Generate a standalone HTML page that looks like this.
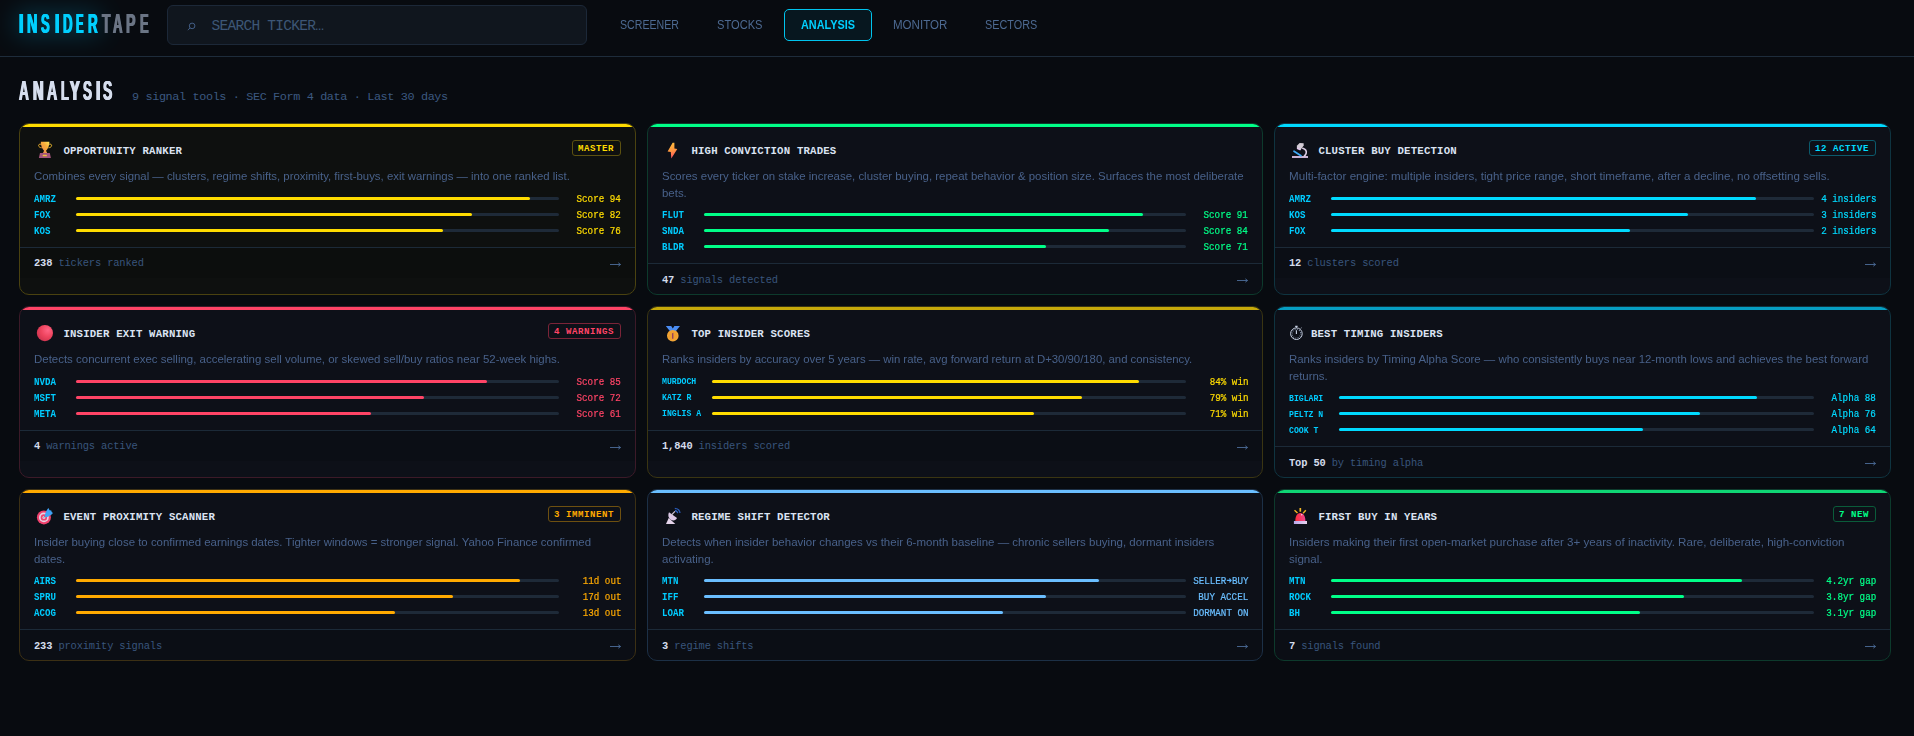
<!DOCTYPE html>
<html lang="en">
<head>
<meta charset="utf-8">
<title>InsiderTape — Analysis</title>
<style>
*{box-sizing:border-box;margin:0;padding:0}
html,body{width:1914px;height:736px;overflow:hidden;background:#080b10}
body{font-family:"Liberation Sans",sans-serif;color:#c8d4e8;position:relative;-webkit-font-smoothing:antialiased}
.mono{font-family:"Liberation Mono",monospace}

/* ---------- header ---------- */
.hdr{position:absolute;left:0;top:0;width:1914px;height:57px;border-bottom:1px solid #1e2c3b;background:#080b10}
.big{position:absolute;left:0;height:32px;line-height:32px;font-weight:bold;font-size:27.8px;white-space:nowrap}
.big i{position:absolute;top:0;font-style:normal;transform-origin:0 50%;text-shadow:1.2px 0 0 currentColor,-1.2px 0 0 currentColor}
.logo{top:8.4px}
.logo .a{color:#00d0ff}
.logo .b{color:#6b7585}
.logo .g{color:#00c8ff;filter:blur(13px);opacity:.38}
.logo .g i{text-shadow:3px 0 0 currentColor,-3px 0 0 currentColor}
.search{position:absolute;left:167px;top:5px;width:420px;height:40px;border:1px solid #1c2838;border-radius:6px;background:#10161e}
.search svg{position:absolute;left:18px;top:15px}
.search .ph{position:absolute;left:43.500px;top:1px;line-height:38px;font-family:"Liberation Mono",monospace;font-size:14.5px;color:#3d5676;white-space:nowrap;letter-spacing:-.72px}
.nav a{position:absolute;top:9px;height:32px;line-height:32px;font-size:12px;color:#4d6a92;white-space:nowrap;transform-origin:0 50%}
.nav .box{position:absolute;left:784px;top:9px;width:88px;height:32px;border:1px solid #00c4ee;border-radius:5px;background:#07171f}
.nav a.on{color:#00d0ff;font-weight:bold}

/* ---------- page title ---------- */
.h1{top:75.3px;color:#d6deee}
.sub{position:absolute;left:132px;top:89.8px;line-height:14px;font-family:"Liberation Mono",monospace;font-size:11.8px;color:#3c5980;white-space:nowrap;letter-spacing:-.36px}

/* ---------- grid ---------- */
.grid{position:absolute;left:19px;top:123px;display:grid;grid-template-columns:617px 616px 617px;grid-auto-rows:172px;gap:11px}
.card{position:relative;border:1px solid var(--bd);border-radius:10px;background:#0d1018;overflow:hidden;--c:#00d4ff;--bd:#15303a}
.card::before{content:"";position:absolute;left:0;top:0;right:0;height:3px;background:var(--c)}
.ico{position:absolute;left:14px;top:14px;width:24px;height:24px}
.tt{position:absolute;left:43.4px;top:20.300px;line-height:14px;font-family:"Liberation Mono",monospace;font-weight:bold;font-size:10.7px;color:#dbe3f2;white-space:nowrap;letter-spacing:.18px}
.bdg{position:absolute;right:14px;top:16px;height:16px;line-height:16px;padding:0 6px 0 5px;border:1px solid var(--bb);border-radius:3px;font-family:"Liberation Mono",monospace;font-weight:bold;font-size:9.1px;letter-spacing:.54px;color:var(--c);white-space:nowrap}
.ds{position:absolute;left:14px;top:44px;font-size:11.35px;line-height:16.5px;color:#48618a;white-space:nowrap;transform-origin:0 0}
.rows{position:absolute;left:14px;right:14px;top:68px}
.two .rows{top:84px}
.r{display:flex;align-items:center;height:13px;margin-bottom:3px}
.r .t{width:42px;flex:none;font-family:"Liberation Mono",monospace;font-weight:bold;font-size:10.6px;color:#00ccff;white-space:nowrap;line-height:13px}
.r .t b,.r .v b{display:inline-block;font-weight:inherit;transform:scaleX(.885);position:relative;top:1px}
.r .t b{transform:scaleX(.86)}
.r .v b{transform:scaleX(.872);left:.3px}
.wide .r .t b{top:0}
.c6 .r .t b{top:1px}
.c6 .tt{left:35.9px}
.r .t b{transform-origin:0 50%}
.r .v b{transform-origin:100% 50%}
.wide .r .t{width:50px;font-size:9.1px}
.wide .r .t b{transform:scaleX(.897)}
.r .k{flex:1;height:3px;border-radius:1.5px;background:#1e2a38;position:relative}
.r .k i{position:absolute;left:0;top:0;height:3px;border-radius:1.5px;background:var(--c)}
.r .v{width:76px;margin-left:-14px;flex:none;text-align:right;-webkit-text-stroke:.22px var(--c);font-family:"Liberation Mono",monospace;font-size:10.6px;color:var(--c);white-space:nowrap;line-height:13px}
.ft{position:absolute;left:0;right:0;top:123px;border-top:1px solid #1c2a38;height:31px;background:rgba(0,0,0,.1);padding:8.500px 14px 0 14px;font-family:"Liberation Mono",monospace;font-size:10.4px;line-height:12px;color:#39557c;white-space:nowrap;letter-spacing:-.14px}
.two .ft{top:139px;padding-top:9.500px}
.two .ft svg{top:13px}
.ft b{color:#d4dcec}
.ft svg{position:absolute;right:14.4px;top:13px}

/* ---------- per-card colours ---------- */
.c1{--c:#ffdc00;--bd:#4a4210;--bb:#5c5110;background:#0e100f}
.c2{--c:#00ff88;--bd:#0d3a2c;--bb:#0d3a2c}
.c3{--c:#00daff;--bd:#0f3440;--bb:#0b5a6c}
.c4{--c:#ff4466;--bd:#3c1a28;--bb:#7a2438}
.c5{--c:#ffdc00;--bd:#3a3512;--bb:#3a3512}
.c5::before{background:#c6a90a}
.c6{--c:#00daff;--bd:#0f3440;--bb:#0f3440}
.c6::before{background:#069ec2}
.c7{--c:#ffaa00;--bd:#3c3014;--bb:#6e5010}
.c8{--c:#6abeff;--bd:#1c3046;--bb:#1c3046}
.c9{--c:#00ff88;--bd:#0d3a2c;--bb:#0a5c3a}
.c9::before{background:#0fd674}
.v svg{display:inline-block;width:6.36px;height:7px;vertical-align:0}
</style>
</head>
<body>

<div class="hdr">
  <div class="big logo"><span class="g"><i style="left:18.96px;transform:scaleX(0.5716)">I</i><i style="left:26.84px;transform:scaleX(0.5170)">N</i><i style="left:41.48px;transform:scaleX(0.4671)">S</i><i style="left:54.63px;transform:scaleX(0.5591)">I</i><i style="left:62.52px;transform:scaleX(0.4776)">D</i><i style="left:76.28px;transform:scaleX(0.4079)">E</i><i style="left:87.99px;transform:scaleX(0.4834)">R</i></span><span class="a"><i style="left:18.96px;transform:scaleX(0.5716)">I</i><i style="left:26.84px;transform:scaleX(0.5170)">N</i><i style="left:41.48px;transform:scaleX(0.4671)">S</i><i style="left:54.63px;transform:scaleX(0.5591)">I</i><i style="left:62.52px;transform:scaleX(0.4776)">D</i><i style="left:76.28px;transform:scaleX(0.4079)">E</i><i style="left:87.99px;transform:scaleX(0.4834)">R</i></span><span class="b"><i style="left:101.68px;transform:scaleX(0.4954)">T</i><i style="left:113.08px;transform:scaleX(0.4750)">A</i><i style="left:126.37px;transform:scaleX(0.5129)">P</i><i style="left:139.72px;transform:scaleX(0.4646)">E</i></span></div>
  <div class="search">
    <svg width="10" height="10" viewBox="0 0 10 10" fill="none" stroke="#46628c" stroke-width=".95"><circle cx="6.1" cy="4.9" r="2.800"/><path d="M4.050 6.950 L1.800 9.100"/></svg>
    <div class="ph">SEARCH TICKER…</div>
  </div>
  <div class="nav">
    <div class="box"></div>
    <a style="left:620px;transform:scaleX(.885)">SCREENER</a>
    <a style="left:717.1px;transform:scaleX(.927)">STOCKS</a>
    <a class="on" style="left:801px;transform:scaleX(.905)">ANALYSIS</a>
    <a style="left:892.7px;transform:scaleX(.962)">MONITOR</a>
    <a style="left:984.5px;transform:scaleX(.903)">SECTORS</a>
  </div>
</div>

<div class="big h1"><i style="left:19.39px;transform:scaleX(0.4883)">A</i><i style="left:32.71px;transform:scaleX(0.5250)">N</i><i style="left:46.61px;transform:scaleX(0.5064)">A</i><i style="left:60.66px;transform:scaleX(0.4590)">L</i><i style="left:69.80px;transform:scaleX(0.5230)">Y</i><i style="left:83.09px;transform:scaleX(0.4839)">S</i><i style="left:95.70px;transform:scaleX(0.5575)">I</i><i style="left:103.48px;transform:scaleX(0.5001)">S</i></div>
<div class="sub">9 signal tools · SEC Form 4 data · Last 30 days</div>

<div class="grid" id="grid">
<div class="card c1">
  <svg class="ico" viewBox="0 0 24 24"><defs><linearGradient id="gtr" x1="1" y1="0" x2="0" y2="1"><stop offset="0" stop-color="#ffe65c"/><stop offset=".4" stop-color="#f9ad3a"/><stop offset="1" stop-color="#ea8456"/></linearGradient></defs>
<path d="M7 6.200c-1.700-.3-2.600.5-2.400 1.500.2 1.200 1.500 2 3.100 2.100" fill="none" stroke="#e6ac2c" stroke-width="1"/>
<path d="M15.200 6.200c1.700-.3 2.600.5 2.400 1.500-.2 1.200-1.500 2-3.100 2.100" fill="none" stroke="#efbd30" stroke-width="1"/>
<path d="M6.800 3.700h8.600c0 4.300-1.600 7-3.400 9.100l1.200 2.200H9l1.100-2.200C8.400 10.700 6.800 8 6.800 3.700z" fill="url(#gtr)"/>
<path d="M6 14.900h9.800l1.100 5.200H4.900z" fill="#a4567c"/>
<rect x="8.700" y="16.800" width="4.200" height="1.500" rx=".5" fill="#f0c03a"/></svg>
  <div class="tt">OPPORTUNITY RANKER</div>
  <div class="bdg">MASTER</div>
  <div class="ds" style="transform:scaleX(1.0038)">Combines every signal — clusters, regime shifts, proximity, first-buys, exit warnings — into one ranked list.</div>
  <div class="rows">
    <div class="r"><span class="t"><b>AMRZ</b></span><span class="k"><i style="width:94%"></i></span><span class="v"><b>Score 94</b></span></div>
    <div class="r"><span class="t"><b>FOX</b></span><span class="k"><i style="width:82%"></i></span><span class="v"><b>Score 82</b></span></div>
    <div class="r"><span class="t"><b>KOS</b></span><span class="k"><i style="width:76%"></i></span><span class="v"><b>Score 76</b></span></div>
  </div>
  <div class="ft"><b>238</b> tickers ranked<svg width="11" height="7" viewBox="0 0 11 7" fill="none" stroke="#4c6c98" stroke-width=".9"><path d="M0 3.500h10.400M8.300 1.800l2.300 1.700-2.300 1.700"/></svg></div>
</div>
<div class="card c2 two">
  <svg class="ico" viewBox="0 0 24 24"><defs><linearGradient id="gbo" x1=".4" y1="0" x2=".6" y2="1"><stop offset="0" stop-color="#ffbe3c"/><stop offset=".5" stop-color="#ff9540"/><stop offset="1" stop-color="#ff4a66"/></linearGradient></defs>
<path d="M10.600 4.700h1.800v5.800l2.900.6-6 9.300-.5-6.300-3.200-.5z" fill="url(#gbo)"/></svg>
  <div class="tt">HIGH CONVICTION TRADES</div>
  <div class="ds" style="transform:scaleX(1.0081)">Scores every ticker on stake increase, cluster buying, repeat behavior &amp; position size. Surfaces the most deliberate<br>bets.</div>
  <div class="rows">
    <div class="r"><span class="t"><b>FLUT</b></span><span class="k"><i style="width:91%"></i></span><span class="v"><b>Score 91</b></span></div>
    <div class="r"><span class="t"><b>SNDA</b></span><span class="k"><i style="width:84%"></i></span><span class="v"><b>Score 84</b></span></div>
    <div class="r"><span class="t"><b>BLDR</b></span><span class="k"><i style="width:71%"></i></span><span class="v"><b>Score 71</b></span></div>
  </div>
  <div class="ft"><b>47</b> signals detected<svg width="11" height="7" viewBox="0 0 11 7" fill="none" stroke="#4c6c98" stroke-width=".9"><path d="M0 3.500h10.400M8.300 1.800l2.300 1.700-2.300 1.700"/></svg></div>
</div>
<div class="card c3">
  <svg class="ico" viewBox="0 0 24 24">
<path d="M3 18.100h16v2H3z" fill="#c9b2d3"/>
<path d="M5 13.200l7 4.600" stroke="#3fa9f5" stroke-width="1.700" stroke-linecap="round" fill="none"/>
<path d="M13.800 10.200c2.800.7 4.100 3 3.300 5.400-.3 1-.9 1.800-1.700 2.400" stroke="#dccde4" stroke-width="1.600" fill="none" stroke-linecap="round"/>
<path d="M10.600 4.900l4 .300.1 2.200-3.300 4.700-3.500-1.600 0-2.700z" fill="#d3ccd6"/>
<path d="M8.100 9.600l3.800 1.700-.7 1.100-3.300-1.500z" fill="#e3c6ee"/></svg>
  <div class="tt">CLUSTER BUY DETECTION</div>
  <div class="bdg">12 ACTIVE</div>
  <div class="ds" style="transform:scaleX(1.0237)">Multi-factor engine: multiple insiders, tight price range, short timeframe, after a decline, no offsetting sells.</div>
  <div class="rows">
    <div class="r"><span class="t"><b>AMRZ</b></span><span class="k"><i style="width:88%"></i></span><span class="v"><b>4 insiders</b></span></div>
    <div class="r"><span class="t"><b>KOS</b></span><span class="k"><i style="width:74%"></i></span><span class="v"><b>3 insiders</b></span></div>
    <div class="r"><span class="t"><b>FOX</b></span><span class="k"><i style="width:62%"></i></span><span class="v"><b>2 insiders</b></span></div>
  </div>
  <div class="ft"><b>12</b> clusters scored<svg width="11" height="7" viewBox="0 0 11 7" fill="none" stroke="#4c6c98" stroke-width=".9"><path d="M0 3.500h10.400M8.300 1.800l2.300 1.700-2.300 1.700"/></svg></div>
</div>
<div class="card c4">
  <svg class="ico" viewBox="0 0 24 24"><defs><radialGradient id="grd" cx=".68" cy=".32" r=".75"><stop offset="0" stop-color="#ff6484"/><stop offset=".55" stop-color="#ee445e"/><stop offset="1" stop-color="#cf3450"/></radialGradient></defs>
<circle cx="10.900" cy="12.100" r="8.100" fill="url(#grd)"/></svg>
  <div class="tt">INSIDER EXIT WARNING</div>
  <div class="bdg">4 WARNINGS</div>
  <div class="ds" style="transform:scaleX(1.01)">Detects concurrent exec selling, accelerating sell volume, or skewed sell/buy ratios near 52-week highs.</div>
  <div class="rows">
    <div class="r"><span class="t"><b>NVDA</b></span><span class="k"><i style="width:85%"></i></span><span class="v"><b>Score 85</b></span></div>
    <div class="r"><span class="t"><b>MSFT</b></span><span class="k"><i style="width:72%"></i></span><span class="v"><b>Score 72</b></span></div>
    <div class="r"><span class="t"><b>META</b></span><span class="k"><i style="width:61%"></i></span><span class="v"><b>Score 61</b></span></div>
  </div>
  <div class="ft"><b>4</b> warnings active<svg width="11" height="7" viewBox="0 0 11 7" fill="none" stroke="#4c6c98" stroke-width=".9"><path d="M0 3.500h10.400M8.300 1.800l2.300 1.700-2.300 1.700"/></svg></div>
</div>
<div class="card c5 wide">
  <svg class="ico" viewBox="0 0 24 24">
<path d="M3.800 5h5.400l1.600 2.400 1.600-2.400h5.600l-4.400 5.600h-5.400z" fill="#4a8cf2"/>
<circle cx="10.800" cy="14.700" r="5.800" fill="#f4a636"/>
<circle cx="10.800" cy="14.700" r="4.500" fill="#f0a030"/>
<path d="M10.100 12.300l1.300-.5v6h-1.400v-4.300z" fill="#94405e"/></svg>
  <div class="tt">TOP INSIDER SCORES</div>
  <div class="ds" style="transform:scaleX(0.9996)">Ranks insiders by accuracy over 5 years — win rate, avg forward return at D+30/90/180, and consistency.</div>
  <div class="rows">
    <div class="r"><span class="t"><b>MURDOCH</b></span><span class="k"><i style="width:90%"></i></span><span class="v"><b>84% win</b></span></div>
    <div class="r"><span class="t"><b>KATZ R</b></span><span class="k"><i style="width:78%"></i></span><span class="v"><b>79% win</b></span></div>
    <div class="r"><span class="t"><b>INGLIS A</b></span><span class="k"><i style="width:68%"></i></span><span class="v"><b>71% win</b></span></div>
  </div>
  <div class="ft"><b>1,840</b> insiders scored<svg width="11" height="7" viewBox="0 0 11 7" fill="none" stroke="#4c6c98" stroke-width=".9"><path d="M0 3.500h10.400M8.300 1.800l2.300 1.700-2.300 1.700"/></svg></div>
</div>
<div class="card c6 two wide">
  <svg class="ico" viewBox="0 0 24 24" fill="none" stroke="#c9d3e6">
<circle cx="7.400" cy="12.700" r="5.800" stroke-width="1"/>
<circle cx="7.400" cy="12.700" r="4.300" stroke-width="1.100" stroke-dasharray=".7 1.550" stroke="#9fb0cc"/>
<path d="M6.200 5.400h2.400" stroke-width="1.300"/>
<path d="M7.400 5.600v1.200" stroke-width="1"/>
<path d="M11.600 7.700l.9-.9" stroke-width="1"/>
<path d="M7.400 9.300v3.800" stroke-width="1.100"/></svg>
  <div class="tt">BEST TIMING INSIDERS</div>
  <div class="ds" style="transform:scaleX(1.0064)">Ranks insiders by Timing Alpha Score — who consistently buys near 12-month lows and achieves the best forward<br>returns.</div>
  <div class="rows">
    <div class="r"><span class="t"><b>BIGLARI</b></span><span class="k"><i style="width:88%"></i></span><span class="v"><b>Alpha 88</b></span></div>
    <div class="r"><span class="t"><b>PELTZ N</b></span><span class="k"><i style="width:76%"></i></span><span class="v"><b>Alpha 76</b></span></div>
    <div class="r"><span class="t"><b>COOK T</b></span><span class="k"><i style="width:64%"></i></span><span class="v"><b>Alpha 64</b></span></div>
  </div>
  <div class="ft"><b>Top 50</b> by timing alpha<svg width="11" height="7" viewBox="0 0 11 7" fill="none" stroke="#4c6c98" stroke-width=".9"><path d="M0 3.500h10.400M8.300 1.800l2.300 1.700-2.300 1.700"/></svg></div>
</div>
<div class="card c7 two">
  <svg class="ico" viewBox="0 0 24 24">
<circle cx="9.900" cy="13.400" r="7" fill="#f0426e"/>
<circle cx="9.900" cy="13.400" r="4.900" fill="#e6d3e4"/>
<circle cx="9.900" cy="13.400" r="3.200" fill="#f0426e"/>
<circle cx="9.900" cy="13.400" r="1.500" fill="#d8c4d6"/>
<path d="M9.900 13.400l1.500-1.500" stroke="#6a7f98" stroke-width="1"/>
<path d="M10.800 10.700L12.700 6.200 14.400 4.100 15.600 6.200 17.300 6.600 17.700 8.100 19 9 17.300 10.700 13.300 13 11.200 13.200z" fill="#3fa2f4"/></svg>
  <div class="tt">EVENT PROXIMITY SCANNER</div>
  <div class="bdg">3 IMMINENT</div>
  <div class="ds" style="transform:scaleX(1.0075)">Insider buying close to confirmed earnings dates. Tighter windows = stronger signal. Yahoo Finance confirmed<br>dates.</div>
  <div class="rows">
    <div class="r"><span class="t"><b>AIRS</b></span><span class="k"><i style="width:92%"></i></span><span class="v"><b>11d out</b></span></div>
    <div class="r"><span class="t"><b>SPRU</b></span><span class="k"><i style="width:78%"></i></span><span class="v"><b>17d out</b></span></div>
    <div class="r"><span class="t"><b>ACOG</b></span><span class="k"><i style="width:66%"></i></span><span class="v"><b>13d out</b></span></div>
  </div>
  <div class="ft"><b>233</b> proximity signals<svg width="11" height="7" viewBox="0 0 11 7" fill="none" stroke="#4c6c98" stroke-width=".9"><path d="M0 3.500h10.400M8.300 1.800l2.300 1.700-2.300 1.700"/></svg></div>
</div>
<div class="card c8 two">
  <svg class="ico" viewBox="0 0 24 24">
<path d="M4 20h9.300l-6.600-5.900z" fill="#e4d4ea"/>
<path d="M7 8.200c-1.400 3-.4 6.200 1.900 7.600 2.400 1.400 5.100.6 6.100-1.700z" fill="#dcc9e6"/>
<path d="M9.500 10.900l3.200-3.300" stroke="#cfc3d3" stroke-width="1.300" stroke-linecap="round"/>
<path d="M12.800 4.300c2.600.1 4.800 2 5.200 4.700" stroke="#2a5ab4" stroke-width="1.300" fill="none"/>
<path d="M13 6.500c1.400.2 2.500 1.200 2.800 2.600" stroke="#2f62c4" stroke-width="1.300" fill="none"/></svg>
  <div class="tt">REGIME SHIFT DETECTOR</div>
  <div class="ds" style="transform:scaleX(1.0139)">Detects when insider behavior changes vs their 6-month baseline — chronic sellers buying, dormant insiders<br>activating.</div>
  <div class="rows">
    <div class="r"><span class="t"><b>MTN</b></span><span class="k"><i style="width:82%"></i></span><span class="v"><b>SELLER<svg viewBox="0 0 6.360 7" fill="none" stroke="#5ab4ff" stroke-width="1.1"><path d="M.5 3.400h5M3.600 1.500l2 1.900-2 1.900"/></svg>BUY</b></span></div>
    <div class="r"><span class="t"><b>IFF</b></span><span class="k"><i style="width:71%"></i></span><span class="v"><b>BUY ACCEL</b></span></div>
    <div class="r"><span class="t"><b>LOAR</b></span><span class="k"><i style="width:62%"></i></span><span class="v"><b>DORMANT ON</b></span></div>
  </div>
  <div class="ft"><b>3</b> regime shifts<svg width="11" height="7" viewBox="0 0 11 7" fill="none" stroke="#4c6c98" stroke-width=".9"><path d="M0 3.500h10.400M8.300 1.800l2.300 1.700-2.300 1.700"/></svg></div>
</div>
<div class="card c9 two">
  <svg class="ico" viewBox="0 0 24 24"><defs><linearGradient id="gsi" x1="0" y1="0" x2="1" y2="0"><stop offset="0" stop-color="#fb2e3a"/><stop offset="1" stop-color="#f0448c"/></linearGradient><linearGradient id="gsb" x1="0" y1="0" x2="1" y2="0"><stop offset="0" stop-color="#b9a6ea"/><stop offset="1" stop-color="#e6d2ec"/></linearGradient></defs>
<path d="M6.300 17.300c0-4.600 1.400-8.300 5-8.300s5.100 3.700 5.100 8.300z" fill="url(#gsi)"/>
<circle cx="12.700" cy="10.700" r=".8" fill="#ffd0dc"/>
<path d="M4.900 17h13.100v3H4.900z" fill="url(#gsb)"/>
<path d="M11.300 4v3.700" stroke="#f2b524" stroke-width="1.700"/>
<path d="M5.500 6.200l3 2.900" stroke="#f2b524" stroke-width="1.400"/>
<path d="M16.800 6.200l-2.700 3" stroke="#f2b524" stroke-width="1.400"/></svg>
  <div class="tt">FIRST BUY IN YEARS</div>
  <div class="bdg">7 NEW</div>
  <div class="ds" style="transform:scaleX(1.0232)">Insiders making their first open-market purchase after 3+ years of inactivity. Rare, deliberate, high-conviction<br>signal.</div>
  <div class="rows">
    <div class="r"><span class="t"><b>MTN</b></span><span class="k"><i style="width:85%"></i></span><span class="v"><b>4.2yr gap</b></span></div>
    <div class="r"><span class="t"><b>ROCK</b></span><span class="k"><i style="width:73%"></i></span><span class="v"><b>3.8yr gap</b></span></div>
    <div class="r"><span class="t"><b>BH</b></span><span class="k"><i style="width:64%"></i></span><span class="v"><b>3.1yr gap</b></span></div>
  </div>
  <div class="ft"><b>7</b> signals found<svg width="11" height="7" viewBox="0 0 11 7" fill="none" stroke="#4c6c98" stroke-width=".9"><path d="M0 3.500h10.400M8.300 1.800l2.300 1.700-2.300 1.700"/></svg></div>
</div>

</div>

</body>
</html>
